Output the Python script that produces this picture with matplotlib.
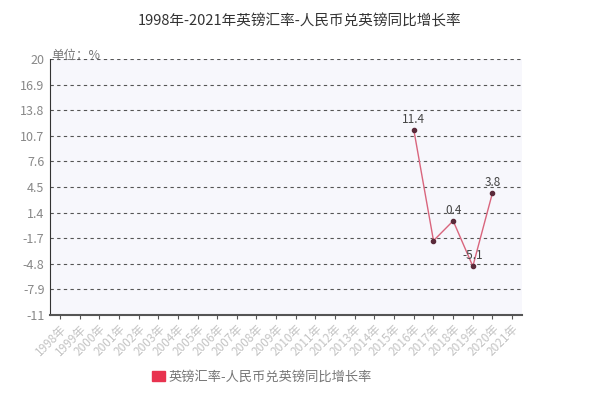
import matplotlib
matplotlib.use("Agg")
import matplotlib.pyplot as plt
import matplotlib.transforms as mtransforms
import numpy as np
from matplotlib.patches import Patch

plt.rcParams['font.family'] = ['Noto Sans CJK SC', 'DejaVu Sans']

years = [f"{y}年" for y in range(1998, 2022)]
values = [None]*18 + [11.4, -2.0, 0.4, -5.1, 3.8, None]
labeled = {18: "11.4", 20: "0.4", 21: "-5.1", 22: "3.8"}
yticks = [20, 16.9, 13.8, 10.7, 7.6, 4.5, 1.4, -1.7, -4.8, -7.9, -11]
title = "1998年-2021年英镑汇率-人民币兑英镑同比增长率"
series_name = "英镑汇率-人民币兑英镑同比增长率"
unit = "单位：%"

fig = plt.figure(figsize=(6.0, 3.99), dpi=100)
ax = fig.add_axes([50/600, 1-315/399, 472/600, 256/399])
ax.set_facecolor('#f7f7fc')

x = np.arange(len(years))
xs = [i for i, v in enumerate(values) if v is not None]
ys = [values[i] for i in xs]
ax.plot(xs, ys, color='#d9657d', lw=1.0, zorder=3)
ax.scatter(xs, ys, s=9, color='#5a2a3a', zorder=4)
for i, lab in labeled.items():
    ax.annotate(lab, (i, values[i]), xytext=(0, 3), textcoords='offset points',
                ha='center', va='bottom', fontsize=8.5, color='#444444')

ax.set_xlim(-0.5, len(years)-0.5)
ax.set_ylim(-11, 20)
ax.set_yticks(yticks)
ax.set_yticklabels([f"{t:g}" for t in yticks], fontsize=9, color='#888888')
shift = mtransforms.ScaledTranslation(0, 3/72, fig.dpi_scale_trans)
for lbl in ax.get_yticklabels():
    lbl.set_transform(lbl.get_transform() + shift)
for t in yticks[:-1]:
    ax.axhline(t, color='#555555', lw=0.8, ls=(0, (3, 3)), zorder=1)
ax.set_xticks(x)
ax.set_xticklabels(years, rotation=45, ha='right', rotation_mode='anchor',
                   fontsize=8.5, color='#c4c4c4')
ax.tick_params(axis='x', length=3, color='#555555', pad=2)
ax.tick_params(axis='y', length=0, pad=4)
for s in ['top', 'right']:
    ax.spines[s].set_visible(False)
ax.spines['left'].set_color('#333333')
ax.spines['bottom'].set_color('#555555')
ax.spines['bottom'].set_linewidth(1.5)

fig.text(0.5, 1-21/399, title, ha='center', va='center', fontsize=10.5, color='#333333')
fig.text(51/600, 1-55/399, unit, ha='left', va='center', fontsize=9, color='#777777')

fig.legend(handles=[Patch(color='#e8334f')], labels=[series_name],
           loc='center', bbox_to_anchor=(262/600, 1-377/399), frameon=False,
           fontsize=9.5, handlelength=1.0, handleheight=0.7, handletextpad=0.3,
           labelcolor='#777777')

fig.savefig("out.png", dpi=100)
